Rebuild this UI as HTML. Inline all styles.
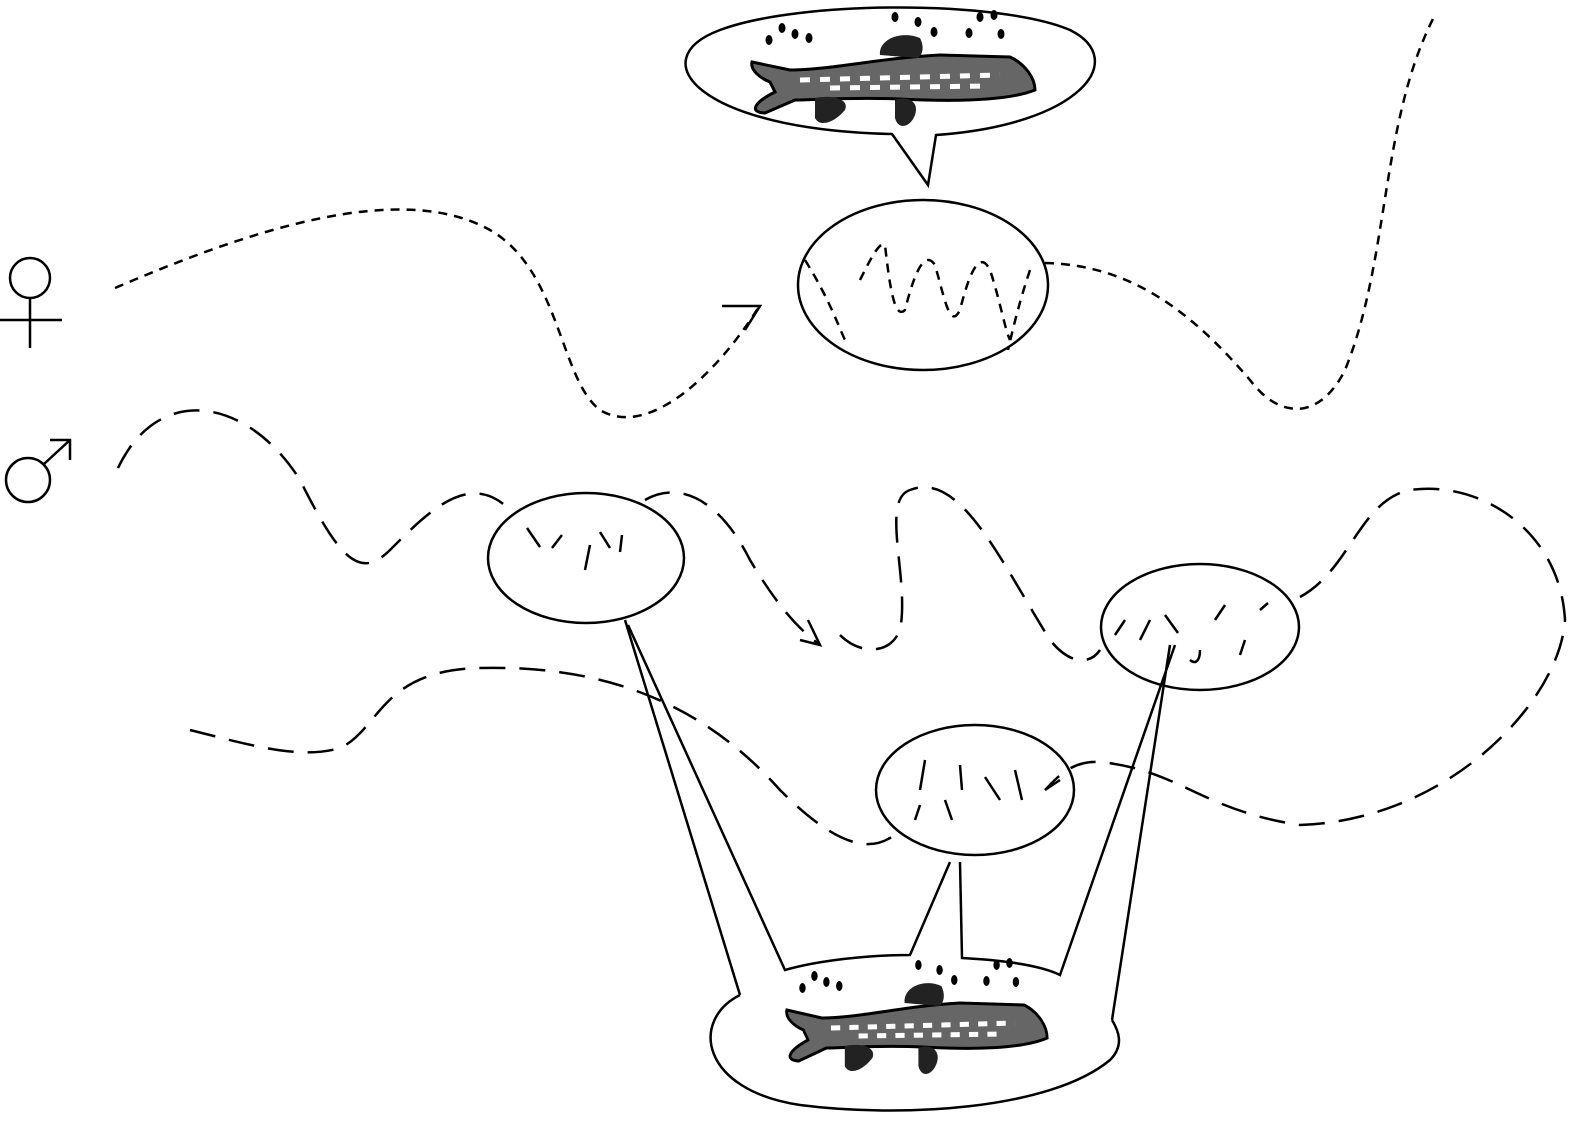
<!DOCTYPE html>
<html><head><style>body{margin:0;background:#fff}svg{display:block}</style></head><body>
<svg width="1577" height="1121" viewBox="0 0 1577 1121" xmlns="http://www.w3.org/2000/svg">
<defs>
<g id="fish">
<path d="M752 62 L790 70 C830 70 880 58 940 55 L1010 57 C1025 64 1035 78 1035 90 C1010 100 960 102 900 99 C850 97 815 100 795 100 L765 113 C748 112 755 102 775 92 L770 82 C760 78 750 70 752 62 Z" fill="#666" stroke="#000" stroke-width="3"/>
<path d="M800 80 L1000 75 M830 88 L990 86" stroke="#fff" stroke-width="5" stroke-dasharray="10 10"/>
<path d="M880 55 C878 40 900 30 920 38 C925 48 922 55 918 58 Z" fill="#222"/>
<path d="M815 98 C830 95 850 98 845 110 C835 122 820 128 815 118 Z" fill="#222"/>
<path d="M895 100 C905 96 920 100 915 115 C910 128 898 130 895 118 Z" fill="#222"/>
<g fill="#000">
<ellipse cx="769" cy="40" rx="3.5" ry="5"/><ellipse cx="782" cy="28" rx="3.5" ry="5"/><ellipse cx="795" cy="34" rx="3.5" ry="5"/><ellipse cx="809" cy="38" rx="3.5" ry="5"/>
<ellipse cx="895" cy="17" rx="3.5" ry="5"/><ellipse cx="918" cy="22" rx="3.5" ry="5"/><ellipse cx="934" cy="32" rx="3.5" ry="5"/>
<ellipse cx="969" cy="33" rx="3.5" ry="5"/><ellipse cx="980" cy="17" rx="3.5" ry="5"/><ellipse cx="994" cy="15" rx="3.5" ry="5"/><ellipse cx="1001" cy="34" rx="3.5" ry="5"/>
</g>
</g>
</defs>
<g fill="none" stroke="#000" stroke-width="2.5">
<circle cx="30" cy="278" r="20"/><path d="M30 298 V348 M0 320 H62"/>
<circle cx="28" cy="480" r="22"/><path d="M44 464 L70 440 M50 440 H70 V460"/>
<path d="M892 134 C700 130 640 60 720 30 C800 0 1000 0 1070 30 C1130 60 1080 125 936 135 L928 185 Z" fill="#fff"/>
<ellipse cx="923" cy="285" rx="125" ry="85"/>
<ellipse cx="586" cy="558" rx="98" ry="65"/>
<ellipse cx="1200" cy="627" rx="99" ry="63"/>
<ellipse cx="975" cy="790" rx="99" ry="65"/>
<path d="M740 995 C690 1020 700 1090 800 1105 C900 1118 1050 1110 1110 1060 C1125 1045 1118 1030 1112 1020"/>
<path d="M625 620 L740 995 M628 625 L785 970 C820 960 870 955 910 955 L950 862 M960 862 L962 958 C1000 960 1040 965 1060 975 L1175 645 M1170 645 L1112 1020"/>
<g stroke-dasharray="9 7">
<path d="M115 288 C250 230 400 180 490 230 C560 270 560 380 600 410 C650 440 720 370 760 305"/>
<path d="M1045 263 C1130 265 1190 310 1250 380 C1280 420 1320 420 1345 370 C1390 260 1380 120 1435 15"/>
<path d="M805 260 C830 300 840 330 845 340 M860 280 C870 260 880 240 885 245 C890 290 895 320 905 310 C915 270 925 250 935 265 C945 300 950 330 960 310 C970 270 980 250 990 270 C1000 300 1005 330 1010 340 M1030 270 C1020 300 1015 320 1008 350"/>
</g>
<path d="M722 306 H760 L745 330"/>
<g stroke-dasharray="26 14">
<path d="M118 468 C160 380 250 400 300 480 C340 560 360 580 390 550 C430 510 470 470 510 510"/>
<path d="M645 500 C680 480 720 500 750 560 C780 610 800 630 820 645"/>
<path d="M840 635 C860 655 890 655 900 630 C910 580 880 500 910 490 C960 470 1000 560 1050 640 C1070 665 1090 665 1100 650"/>
<path d="M1300 597 C1350 570 1360 500 1410 490 C1480 480 1560 530 1565 620 C1560 700 1450 820 1300 825 C1200 810 1180 770 1100 762 C1070 760 1055 780 1045 790"/>
<path d="M190 730 C250 745 300 760 340 748 C380 730 380 670 480 668 C600 665 700 700 780 790 C830 840 870 860 900 830"/>
</g>
<path d="M800 640 L820 645 L808 620"/>
<path d="M527 528 L540 547 M552 548 L562 535 M585 570 L590 545 M600 532 L610 548 M622 535 L620 552"/>
<path d="M1115 635 L1125 620 M1140 640 L1150 620 M1165 615 L1178 633 M1190 660 C1196 665 1200 660 1200 650 M1215 620 L1225 605 M1240 655 L1245 640 M1260 610 L1268 603"/>
<path d="M925 760 L920 790 M960 765 L962 790 M985 777 L1000 800 M1015 770 L1022 800 M920 805 L915 820 M945 800 L952 820 M1045 790 L1060 780"/>
</g>
<use href="#fish"/>
<use href="#fish" transform="translate(95 978) scale(0.92 1)" x="0" y="-30"/>
</svg>
</body></html>
